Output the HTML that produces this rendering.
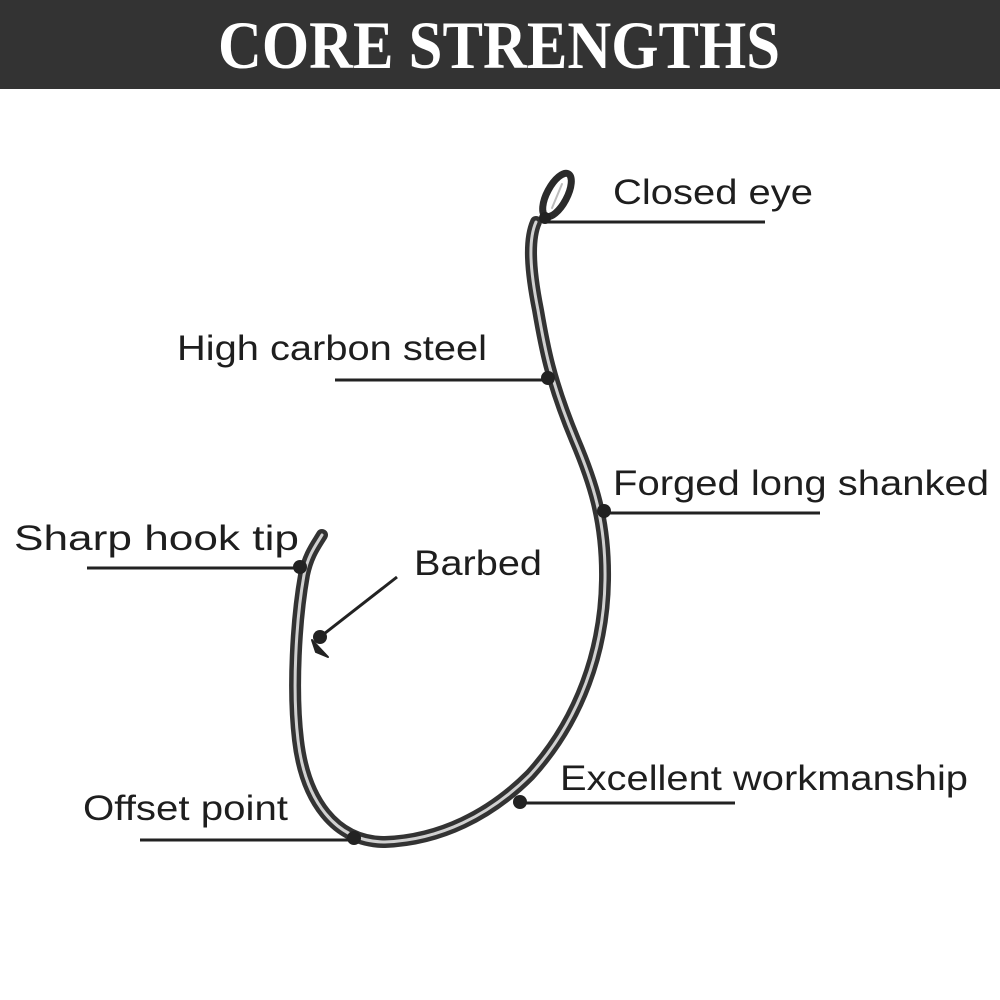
<!DOCTYPE html>
<html><head><meta charset="utf-8"><style>
html,body{margin:0;padding:0;background:#fff;}
svg{display:block;}
</style></head><body>
<svg width="1000" height="1000" viewBox="0 0 1000 1000" xmlns="http://www.w3.org/2000/svg">
<rect x="0" y="0" width="1000" height="89" fill="#333333"/>
<text x="218" y="68" font-family="Liberation Serif, serif" font-weight="bold" font-size="68" fill="#fff" textLength="562" lengthAdjust="spacingAndGlyphs">CORE STRENGTHS</text>

<!-- hook -->
<g fill="none" stroke-linecap="round" stroke-linejoin="round">
<path d="M536,222 C528,240 530,270 538,310 C544,345 550,380 575,440 C592,480 606,520 605,580 C604,650 580,720 530,775 C490,815 440,840 385,842 C335,842 305,800 298,740 C292,690 296,620 304,575 C308,555 316,545 322,535" stroke="#333" stroke-width="12"/>
<path d="M536,222 C528,240 530,270 538,310 C544,345 550,380 575,440 C592,480 606,520 605,580 C604,650 580,720 530,775 C490,815 440,840 385,842 C335,842 305,800 298,740 C292,690 296,620 304,575 C308,555 316,545 322,535" stroke="#d0d0d0" stroke-width="3"/>
<ellipse cx="557" cy="195" rx="10" ry="24" transform="rotate(28 557 195)" stroke="#2a2a2a" stroke-width="7"/>
<path d="M552,208 L562,184" stroke="#bbb" stroke-width="2"/>
<path d="M312,640 L328,657 L316,652 Z" fill="#222" stroke="#222" stroke-width="2"/>
</g>

<!-- leader lines -->
<g stroke="#222" stroke-width="3" fill="#222">
<line x1="545" y1="222" x2="765" y2="222"/>
<line x1="335" y1="380" x2="548" y2="380"/>
<line x1="604" y1="513" x2="820" y2="513"/>
<line x1="87" y1="568" x2="300" y2="568"/>
<line x1="320" y1="637" x2="397" y2="577"/>
<line x1="520" y1="803" x2="735" y2="803"/>
<line x1="140" y1="840" x2="354" y2="840"/>
<circle cx="548" cy="378" r="7" stroke="none"/>
<circle cx="604" cy="511" r="7" stroke="none"/>
<circle cx="300" cy="567" r="7" stroke="none"/>
<circle cx="320" cy="637" r="7" stroke="none"/>
<circle cx="520" cy="802" r="7" stroke="none"/>
<circle cx="354" cy="838" r="7" stroke="none"/>
<circle cx="545" cy="218" r="6" stroke="none"/>
</g>

<g font-family="Liberation Sans, sans-serif" font-size="35" fill="#1e1e1e">
<text x="613" y="204" textLength="200" lengthAdjust="spacingAndGlyphs">Closed eye</text>
<text x="177" y="360" textLength="310" lengthAdjust="spacingAndGlyphs">High carbon steel</text>
<text x="613" y="495" textLength="376" lengthAdjust="spacingAndGlyphs">Forged long shanked</text>
<text x="14" y="550" textLength="285" lengthAdjust="spacingAndGlyphs">Sharp hook tip</text>
<text x="414" y="575" textLength="128" lengthAdjust="spacingAndGlyphs">Barbed</text>
<text x="560" y="790" textLength="408" lengthAdjust="spacingAndGlyphs">Excellent workmanship</text>
<text x="83" y="820" textLength="205" lengthAdjust="spacingAndGlyphs">Offset point</text>
</g>
</svg>
</body></html>
